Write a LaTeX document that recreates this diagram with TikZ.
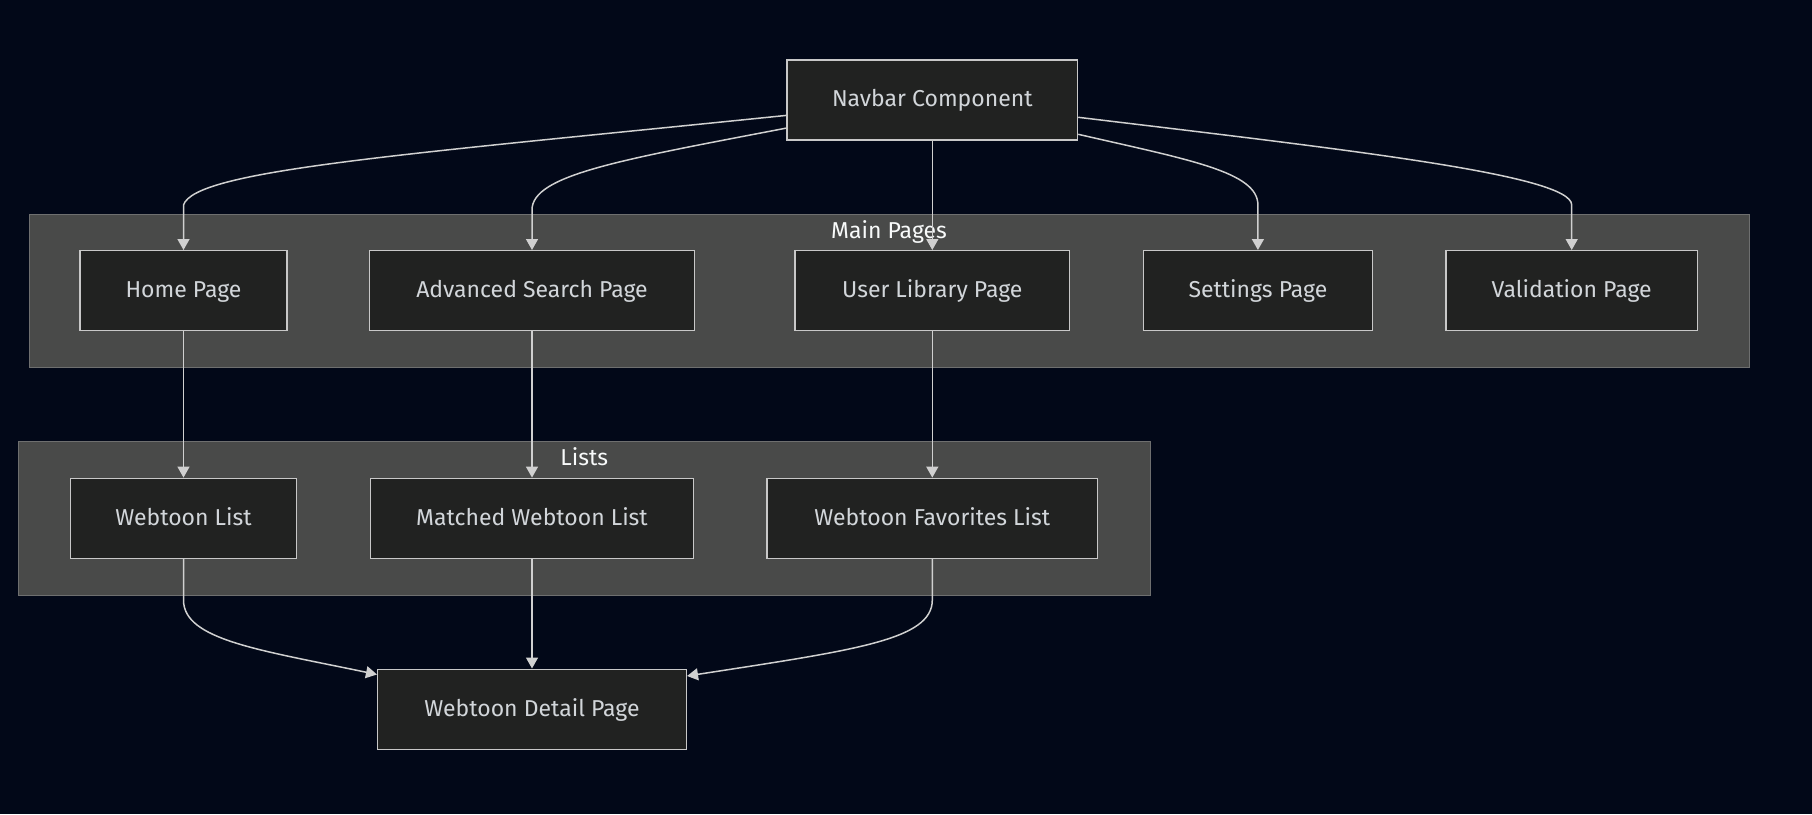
\documentclass[tikz,border=0pt]{standalone}
\usepackage{fontspec}
\setmainfont{Fira Sans}
\usetikzlibrary{arrows.meta}
\definecolor{bg}{RGB}{2,8,24}
\definecolor{clfill}{RGB}{73,74,73}
\definecolor{clborder}{RGB}{110,111,111}
\definecolor{nfill}{RGB}{33,34,33}
\definecolor{nborder}{RGB}{200,200,200}
\definecolor{ntext}{RGB}{210,214,218}
\definecolor{edgecol}{RGB}{208,208,208}
\definecolor{ltext}{RGB}{248,250,250}
\begin{document}
\begin{tikzpicture}[x=1pt,y=-1pt,
  box/.style={draw=nborder,fill=nfill,line width=1.4pt,text=ntext,
    font=\fontsize{23}{27}\selectfont,text height=17pt,text depth=3pt,
    minimum height=80pt,inner sep=0pt},
  cluster/.style={draw=clborder,fill=clfill,line width=1pt},
  clabel/.style={text=ltext,font=\fontsize{23}{27}\selectfont,anchor=base,inner sep=0pt},
  conn/.style={draw=edgecol,line width=1.5pt,-{Triangle[width=12pt,length=11pt]}}
]
\fill[bg] (0,0) rectangle (1812,814);
\useasboundingbox (0,0) rectangle (1812,814);

% clusters
\draw[cluster] (29,214) rectangle (1749,367);
\node[clabel] (lmain) at (889,238) {Main Pages};
\draw[cluster] (18.5,441.4) rectangle (1150,595);
\node[clabel] (llists) at (584.3,465.4) {Lists};

% nodes
\node[box,minimum width=290.5pt] (nav) at (932.3,99.8) {Navbar Component};
\node[box,minimum width=206.7pt] (home) at (183.5,290.7) {Home Page};
\node[box,minimum width=324.7pt] (adv) at (532,290.7) {Advanced Search Page};
\node[box,minimum width=274.3pt] (lib) at (932.3,290.7) {User Library Page};
\node[box,minimum width=229.3pt] (set) at (1257.9,290.7) {Settings Page};
\node[box,minimum width=251.3pt] (val) at (1571.7,290.7) {Validation Page};
\node[box,minimum width=226.5pt] (wl) at (183.5,518.3) {Webtoon List};
\node[box,minimum width=323pt] (mwl) at (532,518.3) {Matched Webtoon List};
\node[box,minimum width=330.8pt] (fav) at (932.3,518.3) {Webtoon Favorites List};
\node[box,minimum width=308.7pt] (det) at (532,709.2) {Webtoon Detail Page};

% edges
\draw[conn] ([yshift=-15.6pt]nav.west) .. controls (400,155) and (195,170) .. (183.5,205) -- (home.north);
\draw[conn] ([yshift=-28.3pt]nav.west) .. controls (620,160) and (532,175) .. (532,210) -- (adv.north);
\draw[conn] (nav.south) -- (lib.north);
\draw[conn] ([yshift=-34.5pt]nav.east) .. controls (1190,160) and (1257.9,172) .. (1257.9,205) -- (set.north);
\draw[conn] ([yshift=-17.5pt]nav.east) .. controls (1350,150) and (1571.7,175) .. (1571.7,205) -- (val.north);
\draw[conn] (home.south) -- (wl.north);
\draw[conn] (adv.south) -- (mwl.north);
\draw[conn] (lib.south) -- (fav.north);
\draw[conn] (wl.south) -- (183.5,600) .. controls (183.5,640) and (260,650) .. ([yshift=-6pt]det.north west);
\draw[conn] (mwl.south) -- (det.north);
\draw[conn] (fav.south) -- (932.3,600) .. controls (932.3,640) and (855,650) .. ([yshift=-7.5pt]det.north east);
\end{tikzpicture}
\end{document}
